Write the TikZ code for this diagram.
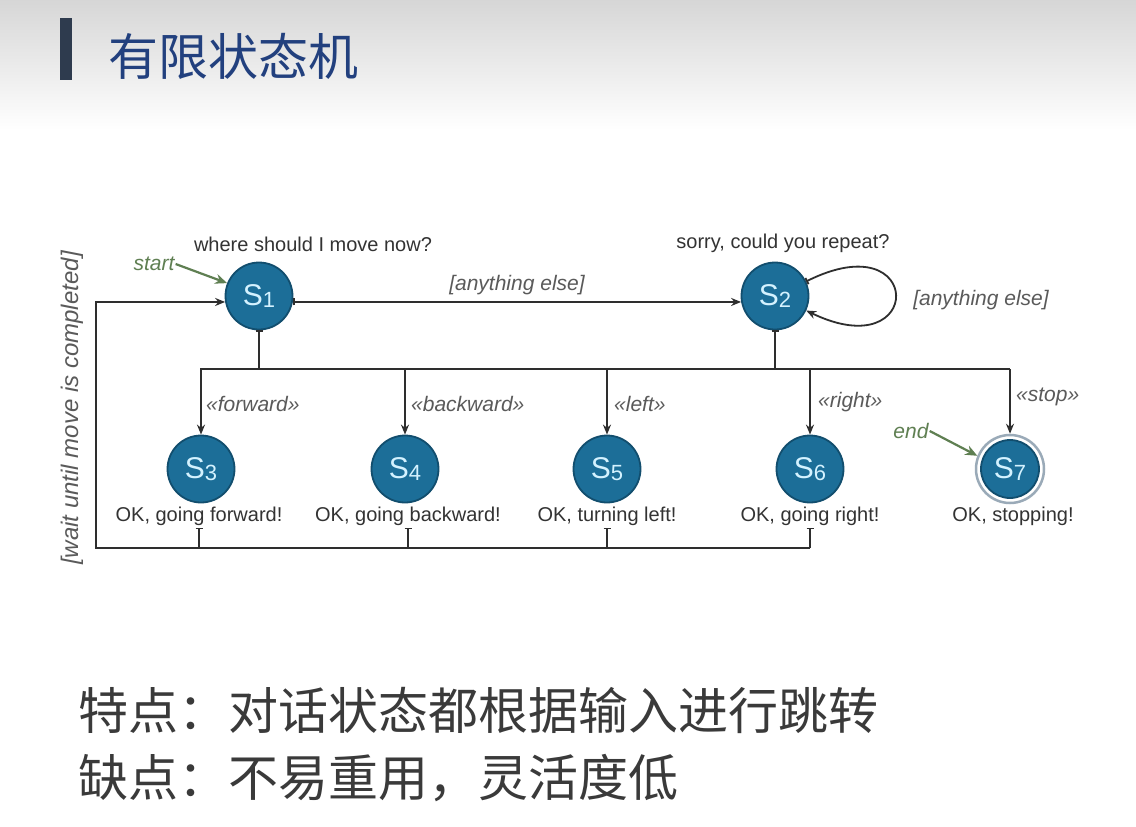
\documentclass[tikz,border=0pt]{standalone}
\usepackage{fontspec}
\setmainfont{Liberation Sans}
\newfontfamily\cjk{Noto Sans CJK SC}
\usetikzlibrary{arrows.meta}
\definecolor{stfill}{HTML}{1C6E98}
\definecolor{stborder}{HTML}{124E6E}
\definecolor{sttext}{HTML}{D4F2FF}
\definecolor{linecol}{HTML}{2E2E2E}
\definecolor{txtgray}{HTML}{333333}
\definecolor{guardgray}{HTML}{5A5A5A}
\definecolor{greentxt}{HTML}{5F7F52}
\definecolor{titleblue}{HTML}{22407E}
\definecolor{barcol}{HTML}{2E3B4E}
\definecolor{ringgray}{HTML}{9AAAB8}
\definecolor{cjkgray}{HTML}{3A3A3A}
\newcommand{\stlab}[1]{S\raisebox{-2pt}{\fontsize{22}{22}\selectfont #1}}
\begin{document}
\begin{tikzpicture}[x=1pt,y=-1pt,
  state/.style={circle, draw=stborder, line width=1.8pt, fill=stfill, minimum size=67pt, inner sep=0pt, text=sttext, font=\fontsize{30}{30}\selectfont},
  lbl/.style={font=\fontsize{20}{20}\selectfont, text=txtgray, inner sep=2pt},
  guard/.style={font=\fontsize{21}{21}\selectfont\itshape, text=guardgray, inner sep=1pt},
  conn/.style={line width=1.8pt, draw=linecol, -{Stealth[length=10pt,width=8pt]}},
  teeconn/.style={line width=1.8pt, draw=linecol, {Bar[width=7pt,line width=1.8pt]}-{Stealth[length=10pt,width=8pt]}},
  teeline/.style={line width=1.8pt, draw=linecol, {Bar[width=7pt,line width=1.8pt]}-},
  plainline/.style={line width=1.8pt, draw=linecol},
  greenarrow/.style={line width=2.2pt, draw=greentxt, -{Stealth[length=12pt,width=10pt]}},
  greenlbl/.style={font=\fontsize{21}{21}\selectfont\itshape, text=greentxt, inner sep=1pt},
  cjktitle/.style={font=\cjk\fontsize{50}{50}\selectfont, text=titleblue, inner sep=0pt},
  cjkbody/.style={font=\cjk\fontsize{50}{50}\selectfont, text=cjkgray, inner sep=0pt}
]
\useasboundingbox (0,0) rectangle (1136,827);
\fill[white] (0,0) rectangle (1136,827);
\shade[top color=black!16, bottom color=white] (0,0) rectangle (1136,130);

% title
\fill[barcol] (60,18) rectangle (72,80);
\node[cjktitle, anchor=west] (title) at (108,56) {有限状态机};

% states
\node[state] (s1) at (259,296) {\stlab{1}};
\node[state] (s2) at (775,296) {\stlab{2}};
\node[state] (s3) at (201,469) {\stlab{3}};
\node[state] (s4) at (405,469) {\stlab{4}};
\node[state] (s5) at (607,469) {\stlab{5}};
\node[state] (s6) at (810,469) {\stlab{6}};
\node[circle, draw=ringgray, line width=2.5pt, fill=white, minimum size=68pt, inner sep=0pt] (s7ring) at (1010,469) {};
\node[state, minimum size=58pt] (s7) at (1010,469) {\stlab{7}};

% state texts
\node[lbl] (t1) at (313,244) {where should I move now?};
\node[lbl] (t2) at (783,243) {sorry, could you repeat?};
\node[lbl] (l3) at (199,516) {OK, going forward!};
\node[lbl] (l4) at (408,516) {OK, going backward!};
\node[lbl] (l5) at (607,516) {OK, turning left!};
\node[lbl] (l6) at (810,516) {OK, going right!};
\node[lbl] (l7) at (1013,516) {OK, stopping!};

% start / end
\node[greenlbl] (start) at (154,264) {start};
\draw[greenarrow] (start.east) -- (s1.158);
\node[greenlbl] (end) at (911,431) {end};
\draw[greenarrow] (end.east) -- (s7ring.158);

% s1 -> s2
\draw[teeconn] (s1.350) -- (s2.190) node[guard, midway, above=5pt] (g12) {[anything else]};

% self loop
\draw[teeconn] (s2.25) .. controls (925,222) and (925,368) .. (s2.335);
\node[guard] (gloop) at (981,300) {[anything else]};

% bus
\coordinate (busL) at (200,369);
\coordinate (busR) at (1010,369);
\draw[plainline] (busL) -- (busR);
\draw[teeline] (s1.south) -- (s1 |- busL);
\draw[teeline] (s2.south) -- (s2 |- busL);
\draw[conn] (s3 |- busL) -- (s3.north);
\draw[conn] (s4 |- busL) -- (s4.north);
\draw[conn] (s5 |- busL) -- (s5.north);
\draw[conn] (s6 |- busL) -- (s6.north);
\draw[conn] (busR) -- (s7ring.north);

% guards
\node[guard, anchor=west] (g3) at (205,404) {«forward»};
\node[guard, anchor=west] (g4) at (410,404) {«backward»};
\node[guard, anchor=west] (g5) at (613,404) {«left»};
\node[guard, anchor=west] (g6) at (817,402) {«right»};
\node[guard, anchor=west] (g7) at (1015,397) {«stop»};

% return path
\coordinate (bb) at (96,548);
\draw[teeline] (l3.south) -- (l3.south |- bb);
\draw[teeline] (l4.south) -- (l4.south |- bb);
\draw[teeline] (l5.south) -- (l5.south |- bb);
\draw[teeline] (l6.south) -- (l6.south |- bb);
\draw[conn] (l6.south |- bb) -- (bb) |- (s1.190);
\node[guard, rotate=90, font=\fontsize{24}{24}\selectfont\itshape] (gwait) at (72,408) {[wait until move is completed]};

% bottom text
\node[cjkbody, anchor=west] (p1) at (78,710) {特点：对话状态都根据输入进行跳转};
\node[cjkbody, anchor=west] (p2) at (78,778) {缺点：不易重用，灵活度低};
\end{tikzpicture}
\end{document}
